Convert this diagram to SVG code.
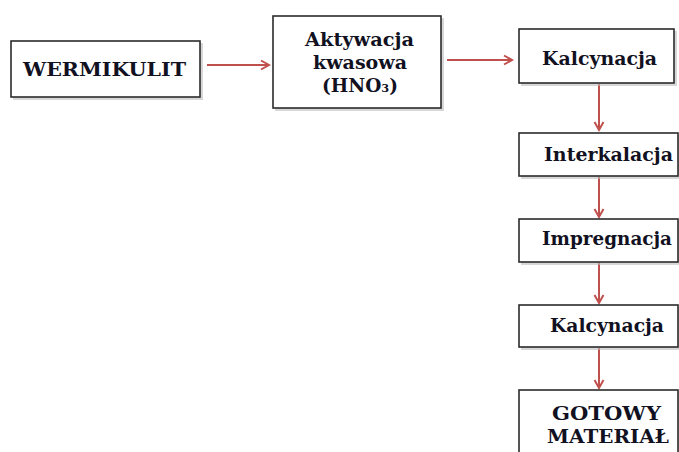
<svg xmlns="http://www.w3.org/2000/svg" width="679" height="452" viewBox="0 0 679 452">
<defs>
<style>
.box{fill:#fff;stroke:#2b2b2b;stroke-width:1.6}
.shadow{fill:#bdbdbd;opacity:0.6}
.t{font-family:"DejaVu Serif","Liberation Serif",serif;font-weight:bold;font-size:18px;fill:#111122}
.sub{font-size:11px}
.c{stroke:#c0504d;stroke-width:2;fill:none}
</style>
<marker id="ah" markerWidth="12" markerHeight="12" refX="9" refY="6" orient="auto" markerUnits="userSpaceOnUse">
<path d="M1,1.5 L9,6 L1,10.5" fill="none" stroke="#c0504d" stroke-width="2"/>
</marker>
</defs>
<rect width="679" height="452" fill="#fff"/>
<g id="connectors">
<line class="c" x1="207" y1="65" x2="269" y2="65" marker-end="url(#ah)"/>
<line class="c" x1="447" y1="60" x2="512" y2="60" marker-end="url(#ah)"/>
<line class="c" x1="599" y1="84" x2="599" y2="130" marker-end="url(#ah)"/>
<line class="c" x1="599" y1="177" x2="599" y2="217" marker-end="url(#ah)"/>
<line class="c" x1="599" y1="263" x2="599" y2="303" marker-end="url(#ah)"/>
<line class="c" x1="599" y1="348" x2="599" y2="388" marker-end="url(#ah)"/>
</g>
<g id="n-wermikulit">
<rect class="shadow" x="13" y="43" width="190" height="57"/>
<rect class="box" x="11" y="41" width="189" height="56"/>
<text class="t" x="23" y="76" textLength="163" lengthAdjust="spacingAndGlyphs">WERMIKULIT</text>
</g>
<g id="n-aktywacja">
<rect class="shadow" x="275" y="18" width="169" height="93"/>
<rect class="box" x="273" y="16" width="168" height="92"/>
<text class="t" x="305" y="46" textLength="109" lengthAdjust="spacingAndGlyphs">Aktywacja</text>
<text class="t" x="313" y="69" textLength="94" lengthAdjust="spacingAndGlyphs">kwasowa</text>
<text class="t" x="322" y="92" textLength="76" lengthAdjust="spacingAndGlyphs">(HNO<tspan class="sub">3</tspan>)</text>
</g>
<g id="n-kalcynacja1">
<rect class="shadow" x="521" y="31" width="156" height="55"/>
<rect class="box" x="519" y="29" width="155" height="54"/>
<text class="t" x="542" y="65" textLength="115" lengthAdjust="spacingAndGlyphs">Kalcynacja</text>
</g>
<g id="n-interkalacja">
<rect class="shadow" x="521" y="135" width="160" height="44"/>
<rect class="box" x="519" y="133" width="159" height="43"/>
<text class="t" x="544" y="161" textLength="129" lengthAdjust="spacingAndGlyphs">Interkalacja</text>
</g>
<g id="n-impregnacja">
<rect class="shadow" x="521" y="221" width="160" height="44"/>
<rect class="box" x="519" y="219" width="159" height="43"/>
<text class="t" x="542" y="245" textLength="130" lengthAdjust="spacingAndGlyphs">Impregnacja</text>
</g>
<g id="n-kalcynacja2">
<rect class="shadow" x="521" y="307" width="160" height="43"/>
<rect class="box" x="519" y="305" width="159" height="42"/>
<text class="t" x="550" y="332" textLength="114" lengthAdjust="spacingAndGlyphs">Kalcynacja</text>
</g>
<g id="n-gotowy">
<rect class="shadow" x="521" y="392" width="160" height="70"/>
<rect class="box" x="519" y="390" width="159" height="70"/>
<text class="t" x="552" y="420" textLength="109" lengthAdjust="spacingAndGlyphs">GOTOWY</text>
<text class="t" x="547" y="443" textLength="122" lengthAdjust="spacingAndGlyphs">MATERIAŁ</text>
</g>
</svg>
